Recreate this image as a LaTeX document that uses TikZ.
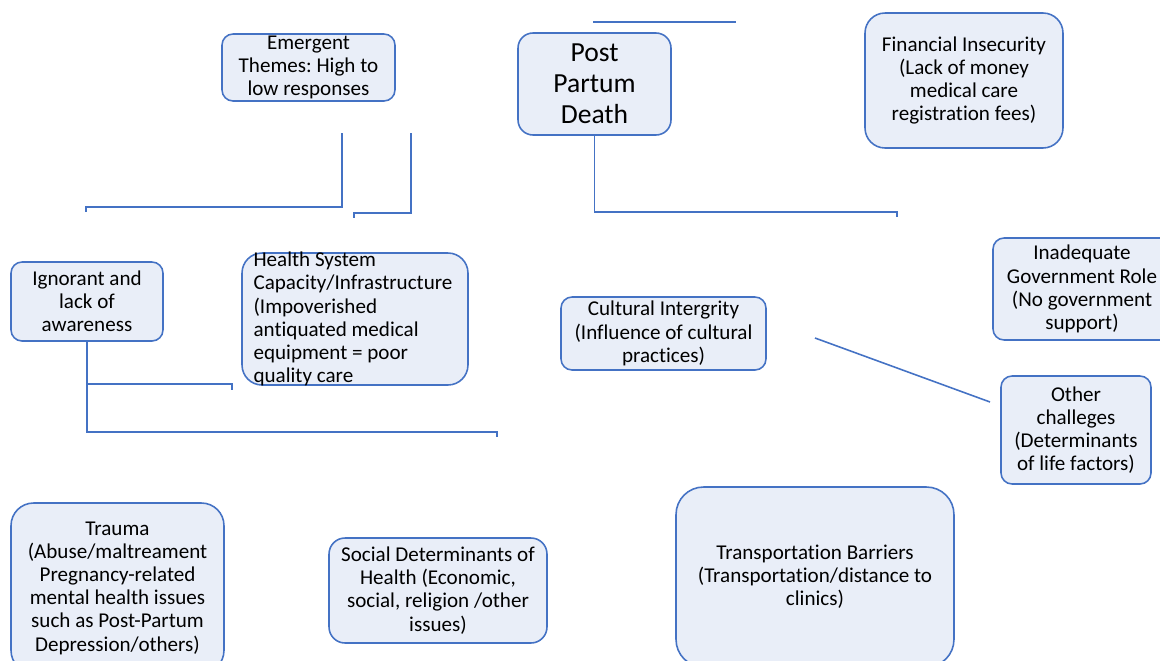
\documentclass[tikz,border=0pt]{standalone}
\usepackage{fontspec}
\setmainfont{Carlito}[Ligatures=NoCommon]
\usetikzlibrary{positioning}
\frenchspacing
\definecolor{themeblue}{HTML}{4472C4}
\definecolor{themefill}{HTML}{E9EEF8}
\tikzset{
  theme/.style={draw=themeblue, fill=themefill, line width=0.9pt, rounded corners=0.22cm,
    align=center, inner sep=1pt, font=\fontsize{12}{13.2}\selectfont},
  plain/.style={inner sep=0pt, align=left, font=\fontsize{12}{13.2}\selectfont},
  link/.style={draw=themeblue, line width=0.9pt},
}
\begin{document}
\begin{tikzpicture}[x=0.02cm,y=-0.02cm]
\clip (0,0) rectangle (1160,660);
% boxes
\node[theme, minimum width=3.46cm, minimum height=1.34cm] (emg) at (308.5,67.5) {Emergent\\Themes: High to\\low responses};
\node[theme, minimum width=3.06cm, minimum height=2.04cm, rounded corners=0.3cm,
  font=\fontsize{15.7}{17.6}\selectfont] (ppd) at (594.5,84) {Post\\Partum\\Death};
\node[theme, minimum width=3.96cm, minimum height=2.70cm, rounded corners=0.4cm] (fin) at (964,80.5)
  {Financial Insecurity\\(Lack of money\\medical care\\registration fees)};
\node[theme, minimum width=3.04cm, minimum height=1.58cm] (ign) at (87,301.5) {Ignorant and\\lack of\\awareness};
\node[theme, minimum width=4.52cm, minimum height=2.64cm, rounded corners=0.4cm] (hsc) at (355,319) {};
\node[plain, right=0.24cm of hsc.west] (hsctext) {Health System\\Capacity/Infrastructure\\(Impoverished\\antiquated medical\\equipment = poor\\quality care};
\node[theme, minimum width=4.10cm, minimum height=1.46cm] (cul) at (663.5,333.5)
  {Cultural Intergrity\\(Influence of cultural\\practices)};
\node[theme, minimum width=3.56cm, minimum height=2.04cm] (gov) at (1082,289)
  {Inadequate\\Government Role\\(No government\\support)};
\node[theme, minimum width=3.00cm, minimum height=2.16cm] (oth) at (1076,430)
  {Other\\challeges\\(Determinants\\of life factors)};
\node[theme, minimum width=4.26cm, minimum height=3.40cm, rounded corners=0.45cm] (trm) at (117.5,588)
  {Trauma\\(Abuse/maltreament\\Pregnancy-related\\mental health issues\\such as Post-Partum\\Depression/others)};
\node[theme, minimum width=4.36cm, minimum height=2.10cm, rounded corners=0.32cm] (soc) at (438,590.5)
  {Social Determinants of\\Health (Economic,\\social, religion /other\\issues)};
\node[theme, minimum width=5.56cm, minimum height=3.60cm, rounded corners=0.55cm] (trn) at (815,577)
  {Transportation Barriers\\(Transportation/distance to\\clinics)};
% connectors
\coordinate (t1) at (593,22);
\coordinate (t2) at (736,22);
\coordinate (e1) at (342,133);
\coordinate (e2) at (86,207);
\coordinate (e3) at (411,133);
\coordinate (e4) at (354,213);
\coordinate (p1) at (897,212);
\coordinate (g1) at (232,384);
\coordinate (g2) at (497,432);
\coordinate (c1) at (815,338);
\coordinate (c2) at (990,402);
\draw[link] (t1) -- (t2);
\draw[link] (e1) |- (e2) -- ++(0,5);
\draw[link] (e3) |- (e4) -- ++(0,5);
\draw[link] (ppd.south) |- (p1) -- ++(0,5);
\draw[link] (ign.south) |- (g1) -- ++(0,6);
\draw[link] (ign.south) |- (g2) -- ++(0,5);
\draw[link] (c1) -- (c2);
\end{tikzpicture}
\end{document}
